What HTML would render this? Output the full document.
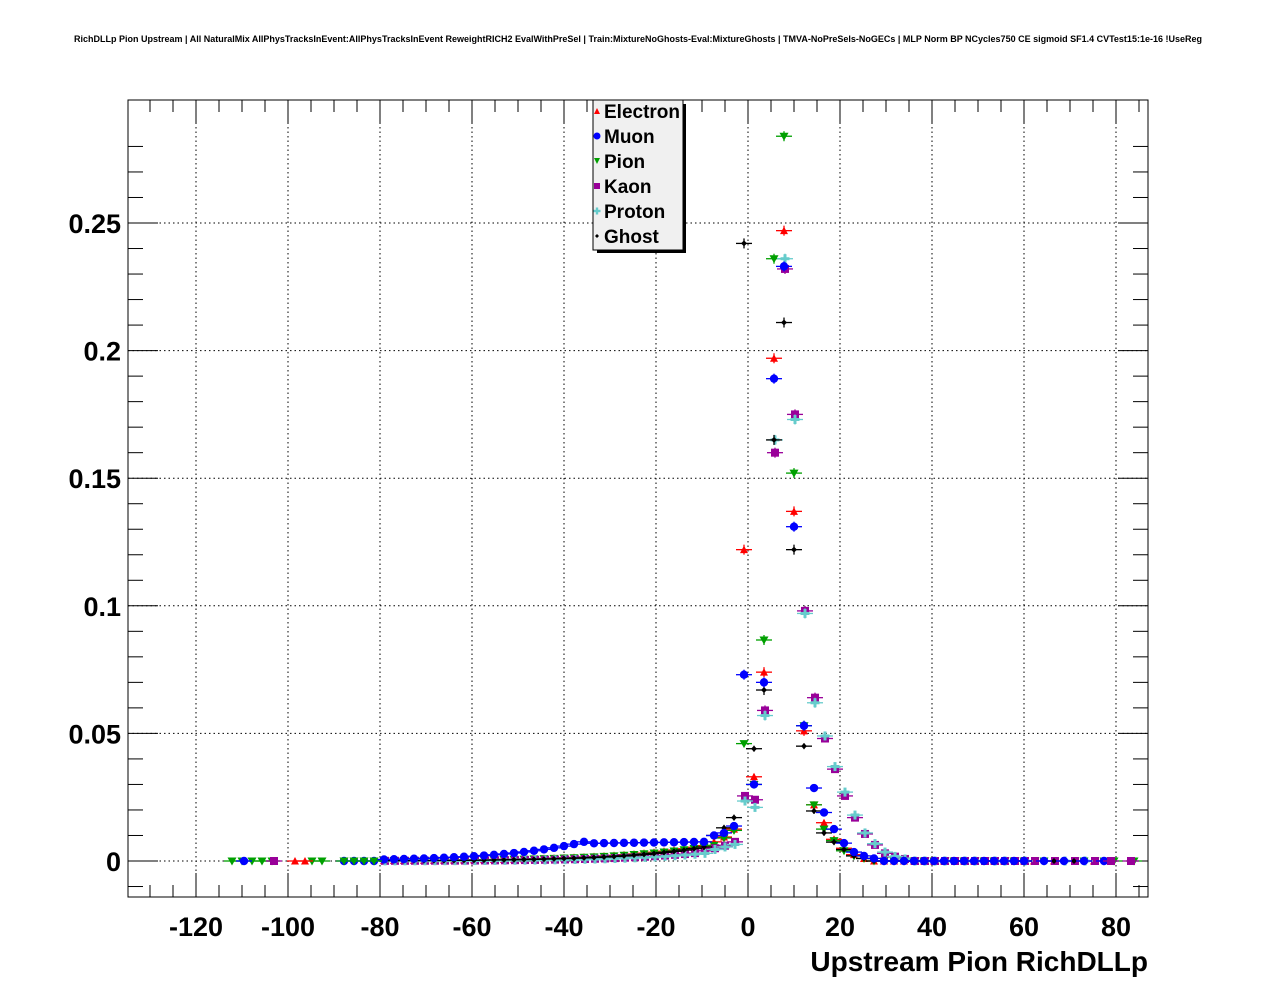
<!DOCTYPE html>
<html><head><meta charset="utf-8"><style>
body{margin:0;background:#fff;}
svg{display:block;font-family:"Liberation Sans",Arial,sans-serif;font-weight:bold;}
</style></head><body>
<svg id="s" width="1276" height="996" xmlns="http://www.w3.org/2000/svg">
<rect width="1276" height="996" fill="#fff"/>
<text x="638" y="42" font-size="9" text-anchor="middle">RichDLLp Pion Upstream | All NaturalMix AllPhysTracksInEvent:AllPhysTracksInEvent ReweightRICH2 EvalWithPreSel | Train:MixtureNoGhosts-Eval:MixtureGhosts | TMVA-NoPreSels-NoGECs | MLP Norm BP NCycles750 CE sigmoid SF1.4 CVTest15:1e-16 !UseReg</text>
<g id="grid"></g>
<g id="ticks"></g>
<rect x="128" y="100" width="1020" height="797" fill="none" stroke="#000" stroke-width="1"/>
<g id="labels" font-size="27"></g>
<text x="1148" y="971" font-size="28" text-anchor="end">Upstream Pion RichDLLp</text>
<g id="pts"></g>
<g id="leg"></g>
</svg>
<script>
var NS="http://www.w3.org/2000/svg";
function el(p,t,a,txt){var e=document.createElementNS(NS,t);for(var k in a)e.setAttribute(k,a[k]);if(txt!=null)e.textContent=txt;document.getElementById(p).appendChild(e);return e;}
function X(v){return 748+4.6*v;}
function Y(v){return 861-2552*v;}
for(var v=-120;v<=80;v+=20){el("grid","line",{x1:X(v),x2:X(v),y1:100,y2:897,stroke:"#000","stroke-dasharray":"1.5,3","stroke-width":1});
 el("labels","text",{x:X(v),y:936,"text-anchor":"middle"},v);}
for(var i=0;i<=5;i++){var y=Y(i*0.05);el("grid","line",{x1:128,x2:1148,y1:y,y2:y,stroke:"#000","stroke-dasharray":"1.5,3","stroke-width":1});
 el("labels","text",{x:121,y:y+10,"text-anchor":"end"},i==0?"0":(i*0.05).toFixed(2).replace(/0$/,""));}
for(var v=-135;v<=85;v+=5){var x=X(v);if(x<128||x>1148)continue;var L=(v%20==0)?24:12;
 el("ticks","line",{x1:x,x2:x,y1:897,y2:897-L,stroke:"#000"});el("ticks","line",{x1:x,x2:x,y1:100,y2:100+L,stroke:"#000"});}
for(var j=-3;j<=28;j++){var y=Y(j*0.01);if(y<100||y>897)continue;var L=(j%5==0)?30:15;
 el("ticks","line",{x1:128,x2:128+L,y1:y,y2:y,stroke:"#000"});el("ticks","line",{x1:1148,x2:1148-L,y1:y,y2:y,stroke:"#000"});}
function mk(g,type,x,y,c){
 var vv=(861-y)/2552, e=vv>0.05?5:(vv>0.005?3:0);
 el(g,"line",{x1:x-8,x2:x+8,y1:y,y2:y,stroke:c,"stroke-width":1.3});
 if(e)el(g,"line",{x1:x,x2:x,y1:y-e,y2:y+e,stroke:c,"stroke-width":1.3});
 if(type=="tu")el(g,"polygon",{points:(x-4)+","+(y+3.5)+" "+(x+4)+","+(y+3.5)+" "+x+","+(y-4),fill:c});
 else if(type=="td")el(g,"polygon",{points:(x-4.5)+","+(y-3.5)+" "+(x+4.5)+","+(y-3.5)+" "+x+","+(y+4.5),fill:c});
 else if(type=="c")el(g,"circle",{cx:x,cy:y,r:4.2,fill:c});
 else if(type=="sq")el(g,"rect",{x:x-4,y:y-4,width:8,height:8,fill:c});
 else if(type=="cr"){el(g,"rect",{x:x-4.5,y:y-1.5,width:9,height:3,fill:c});el(g,"rect",{x:x-1.5,y:y-4.5,width:3,height:9,fill:c});}
 else if(type=="d")el(g,"polygon",{points:(x-3)+","+y+" "+x+","+(y-3)+" "+(x+3)+","+y+" "+x+","+(y+3),fill:c});
}
function PX(k){return 744+10*k;}
var S=[
 {t:"tu",c:"#ff0000",pk:{"-3":0.0075,"-2":0.0094,"-1":0.0125,0:0.122,1:0.033,2:0.074,3:0.197,4:0.247,5:0.137,6:0.051,7:0.022,8:0.015,9:0.0085,10:0.005,11:0.0025,12:0.001},amp:0.006,tau:9,off:0},
 {t:"td",c:"#00a000",pk:{"-2":0.009,"-1":0.012,0:0.046,1:0.03,2:0.0866,3:0.236,4:0.284,5:0.152,6:0.053,7:0.022,8:0.0125,9:0.008,10:0.004,11:0.002,12:0.001},amp:0.0055,tau:9,off:0},
 {t:"sq",c:"#990099",pk:{"-4":0.004,"-3":0.005,"-2":0.006,"-1":0.0075,0:0.0255,1:0.024,2:0.059,3:0.160,4:0.232,5:0.175,6:0.098,7:0.064,8:0.048,9:0.036,10:0.0255,11:0.017,12:0.0106,13:0.0063,14:0.003,15:0.0017,16:0.0008},amp:0.0035,tau:8,off:1},
 {t:"cr",c:"#66cccc",pk:{"-4":0.003,"-3":0.0045,"-2":0.0055,"-1":0.0065,0:0.0235,1:0.021,2:0.057,3:0.165,4:0.236,5:0.173,6:0.097,7:0.062,8:0.049,9:0.037,10:0.027,11:0.018,12:0.011,13:0.0068,14:0.0035,15:0.0018,16:0.0008},amp:0.003,tau:8,off:1},
 {t:"d",c:"#000000",pk:{"-3":0.01,"-2":0.013,"-1":0.017,0:0.242,1:0.044,2:0.067,3:0.165,4:0.211,5:0.122,6:0.045,7:0.0196,8:0.011,9:0.0074,10:0.0045,11:0.002,12:0.001},amp:0.0055,tau:8,off:0},
 {t:"c",c:"#0000ff",pk:{"-3":0.010,"-2":0.011,"-1":0.0137,0:0.073,1:0.030,2:0.070,3:0.189,4:0.233,5:0.131,6:0.053,7:0.0286,8:0.019,9:0.0125,10:0.007,11:0.0035,12:0.002,13:0.001},amp:0.0085,tau:10,off:0}
];
S.forEach(function(s,i){
 for(var k=-36;k<=36;k++){
  var v;
  if(s.pk[k]!==undefined)v=s.pk[k];
  else if(k<0){ if(s.t=="c"){v=k>-16?0.0075-(-4-k)*0.00005:0.0075*Math.exp((k+16)/8);}
    else v=s.amp*Math.exp((k+4)/s.tau);}
  else v=0;
  if(k>=20 && (k+i)%3==0 && s.t!="sq" && s.t!="c") continue;
  if(k>=29 && (k+i)%2==0) continue;
  mk("pts",s.t,PX(k)+s.off,Y(v),s.c);
 }
});
[-51,-50,-49,-48,-47,-43,-42].forEach(function(k){mk("pts","td",PX(k)-2,Y(0),"#00a000");});
mk("pts","c",PX(-50),Y(0),"#0000ff");mk("pts","sq",PX(-47),Y(0),"#990099");
mk("pts","tu",PX(-45)+1,Y(0),"#ff0000");mk("pts","tu",PX(-44)+1,Y(0),"#ff0000");
[-40,-39,-38,-37].forEach(function(k){mk("pts","c",PX(k),Y(0),"#0000ff");mk("pts","td",PX(k),Y(0),"#00a000");});
[37,39].forEach(function(k){mk("pts","td",PX(k),Y(0),"#00a000");mk("pts","sq",PX(k)-3,Y(0),"#990099");});
el("leg","rect",{x:597,y:104,width:89,height:149,fill:"#000"});
el("leg","rect",{x:593,y:100,width:90,height:150,fill:"#f0f0f0",stroke:"#000"});
var names=[["Electron","tu","#ff0000"],["Muon","c","#0000ff"],["Pion","td","#00a000"],["Kaon","sq","#990099"],["Proton","cr","#66cccc"],["Ghost","d","#000000"]];
names.forEach(function(n,i){var y=111+25*i;
 if(n[1]=="tu")el("leg","polygon",{points:"594,"+(y+3)+" 600,"+(y+3)+" 597,"+(y-3),fill:n[2]});
 else if(n[1]=="td")el("leg","polygon",{points:"594,"+(y-3)+" 600,"+(y-3)+" 597,"+(y+3),fill:n[2]});
 else if(n[1]=="c")el("leg","circle",{cx:597,cy:y,r:3.5,fill:n[2]});
 else if(n[1]=="sq")el("leg","rect",{x:594,y:y-3,width:6,height:6,fill:n[2]});
 else if(n[1]=="cr"){el("leg","rect",{x:593.5,y:y-1.2,width:7,height:2.4,fill:n[2]});el("leg","rect",{x:595.8,y:y-3.5,width:2.4,height:7,fill:n[2]});}
 else el("leg","polygon",{points:"595,"+y+" 597,"+(y-2)+" 599,"+y+" 597,"+(y+2),fill:n[2]});
 el("leg","text",{x:604,y:y+7,"font-size":19},n[0]);
});
</script>
</body></html>
